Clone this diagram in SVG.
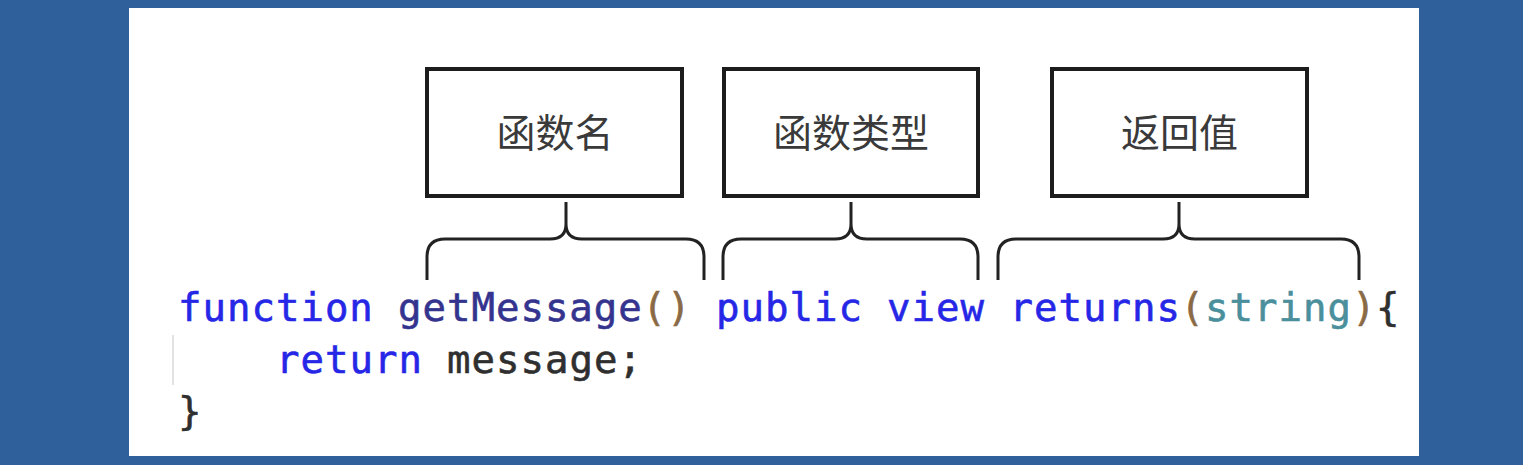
<svg xmlns="http://www.w3.org/2000/svg" width="1523" height="465" viewBox="0 0 1523 465">
<style>
.box{fill:#ffffff;stroke:#1c1c1c;stroke-width:4}
.lbl{font-family:"Noto Sans CJK SC","Noto Sans",sans-serif;font-size:39px;fill:#3a3a3a;text-anchor:middle}
.brace{fill:none;stroke:#222222;stroke-width:3;stroke-linecap:butt;stroke-linejoin:round}
.code{font-family:"DejaVu Sans Mono","Liberation Mono",monospace;font-size:39px;letter-spacing:1px;stroke-width:0.6px}
.kw{fill:#2626e6;stroke:#2626e6}
.fn{fill:#34348f;stroke:#34348f}
.par{fill:#8a6a45;stroke:#8a6a45}
.ty{fill:#4a8f9c;stroke:#4a8f9c}
.id{fill:#2f2f2f;stroke:#2f2f2f}
</style>
<rect x="0" y="0" width="1523" height="465" fill="#30609b"/>
<rect x="129" y="8" width="1290" height="448" fill="#ffffff"/>
<g id="node-name">
<rect class="box" x="427" y="69" width="255" height="127"/>
<text class="lbl" x="555" y="147">函数名</text>
</g>
<g id="node-type">
<rect class="box" x="724" y="69" width="254" height="127"/>
<text class="lbl" x="851" y="147">函数类型</text>
</g>
<g id="node-return">
<rect class="box" x="1052" y="69" width="255" height="127"/>
<text class="lbl" x="1179.5" y="147">返回值</text>
</g>
<g id="connectors">
<path class="brace" d="M427,280 L427,257 Q427,239 445,239 L550,239 Q566,239 566,224 L566,202 M566,224 Q566,239 582,239 L686,239 Q704,239 704,257 L704,280"/>
<path class="brace" d="M723,280 L723,257 Q723,239 741,239 L835,239 Q851,239 851,224 L851,202 M851,224 Q851,239 867,239 L960,239 Q978,239 978,257 L978,280"/>
<path class="brace" d="M998,280 L998,257 Q998,239 1016,239 L1163,239 Q1179,239 1179,224 L1179,202 M1179,224 Q1179,239 1195,239 L1341,239 Q1359,239 1359,257 L1359,280"/>
</g>
<g id="code">
<line x1="173" y1="335" x2="173" y2="385" stroke="#e2e2e2" stroke-width="2"/>
<text class="code" y="321"><tspan class="kw" x="178">function</tspan><tspan class="fn" x="398">getMessage</tspan><tspan class="par" x="642.5">()</tspan><tspan class="kw" x="716">public</tspan><tspan class="kw" x="887">view</tspan><tspan class="kw" x="1009.5">returns</tspan><tspan class="par" x="1180.5">(</tspan><tspan class="ty" x="1205">string</tspan><tspan class="par" x="1352">)</tspan><tspan class="id" x="1376">{</tspan></text>
<text class="code" y="373"><tspan class="kw" x="276">return</tspan><tspan class="id" x="447">message;</tspan></text>
<text class="code id" x="178" y="425">}</text>
</g>
</svg>
